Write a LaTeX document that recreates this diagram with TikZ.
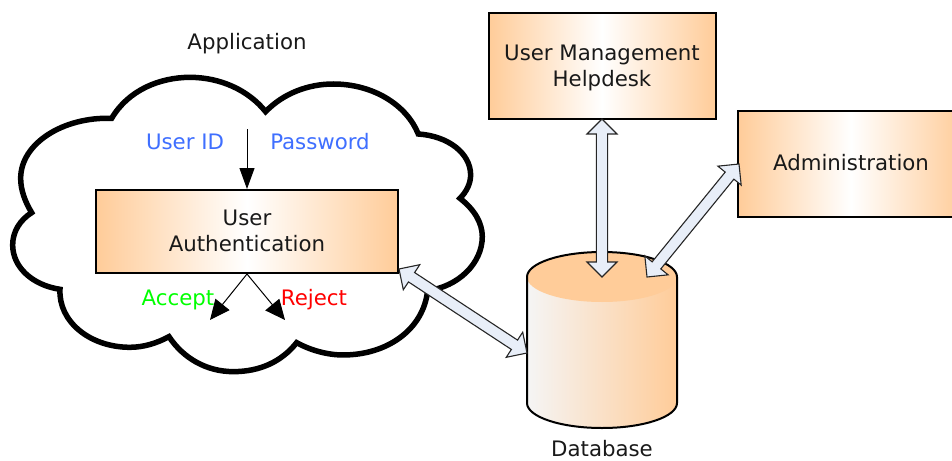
\documentclass[tikz,border=0pt]{standalone}
\usepackage{fontspec}
\setmainfont{DejaVu Sans}
\usetikzlibrary{arrows.meta,calc}
\definecolor{boxorange}{HTML}{FFCC99}
\definecolor{arrowfill}{HTML}{E8EEF8}
\definecolor{uidblue}{HTML}{3F6FFF}
\tikzset{
  x=1pt,y=-1pt,
  lbl/.style={font=\fontsize{21.3}{26}\selectfont,inner sep=0pt,align=center,text=black!90},
  gbox/.style={draw=black,line width=2pt,left color=boxorange,right color=boxorange,middle color=white,shading angle=90,inner sep=0pt,align=center,font=\fontsize{21.3}{26}\selectfont,text=black!90},
  thin arrow/.style={line width=1pt,draw=black,-{Triangle[length=21pt,width=15pt]}},
  thin slant/.style={line width=1pt,draw=black,-{Triangle[length=20pt,width=18pt]}},
  dbl/.style={draw=black!85,line width=1.1pt,fill=arrowfill,line join=miter},
}
\newcommand{\dblarrow}[2]{%
  \coordinate (h1) at ($(#1)!15pt!(#2)$);
  \coordinate (h2) at ($(#2)!15pt!(#1)$);
  \draw[dbl] (#1) -- ($(h1)!15pt!90:(#1)$) -- ($(h1)!5.6pt!90:(#1)$) -- ($(h2)!5.6pt!-90:(#2)$) -- ($(h2)!15pt!-90:(#2)$) -- (#2)
   -- ($(h2)!15pt!90:(#2)$) -- ($(h2)!5.6pt!90:(#2)$) -- ($(h1)!5.6pt!-90:(#1)$) -- ($(h1)!15pt!-90:(#1)$) -- cycle;}
\begin{document}
\begin{tikzpicture}
\useasboundingbox (0,0) rectangle (952,460);
% cloud (coordinates of a 3x crop with origin 0,60)
\begin{scope}[shift={(0,60)},x=0.3333pt,y=-0.3333pt]
\draw[line width=5.5pt,fill=white,line join=miter]
 (335,175) .. controls (385,90) and (480,52) .. (570,52)
 .. controls (660,52) and (745,90) .. (797,155)
 .. controls (850,100) and (925,72) .. (1000,72)
 .. controls (1120,72) and (1220,135) .. (1255,222)
 .. controls (1345,228) and (1412,280) .. (1412,345)
 .. controls (1412,370) and (1400,395) .. (1380,415)
 .. controls (1425,450) and (1447,490) .. (1447,530)
 .. controls (1447,610) and (1375,680) .. (1283,692)
 .. controls (1270,810) and (1160,885) .. (1030,885)
 .. controls (980,885) and (930,870) .. (890,848)
 .. controls (845,905) and (780,935) .. (700,935)
 .. controls (620,935) and (550,895) .. (507,830)
 .. controls (470,850) and (430,862) .. (390,862)
 .. controls (270,862) and (175,785) .. (180,688)
 .. controls (95,675) and (38,620) .. (38,555)
 .. controls (38,515) and (60,480) .. (95,458)
 .. controls (75,425) and (62,390) .. (62,355)
 .. controls (62,250) and (190,170) .. (335,175) -- cycle;
\end{scope}
\node[lbl] (app) at (247,44) {Application};
\node[gbox,minimum width=302pt,minimum height=83pt] (auth) at (247,231.5) {};
\node[lbl] (authtxt) at (247,231) {User\\Authentication};
\node[gbox,minimum width=227pt,minimum height=105pt] (mgmt) at (602,66) {};
\node[lbl] (mgmttxt) at (602,67.5) {User Management\\Helpdesk};
\node[gbox,minimum width=226pt,minimum height=106pt] (admin) at (851,164) {};
\node[lbl] (admintxt) at (851,162.5) {Administration};
\node[lbl,text=uidblue] (uid) at (185,142) {User ID};
\node[lbl,text=uidblue] (pwd) at (320,142) {Password};
\node[lbl,text={rgb,255:red,0;green,255;blue,0}] (acc) at (178,299.5) {Accept};
\node[lbl,text=red] (rej) at (314,299.5) {Reject};
\coordinate (inp) at (247,129);
\coordinate (acct) at (210,320);
\coordinate (rejt) at (285,320);
\draw[thin arrow] (inp) -- (auth.north);
\draw[thin slant] (auth.south) -- (acct);
\draw[thin slant] (auth.south) -- (rejt);
% database
\shade[left color=black!4,right color=boxorange] (527,277) -- (527,403) arc[start angle=180,end angle=360,x radius=75,y radius=-25] -- (677,277) -- cycle;
\fill[boxorange] (602,277) ellipse[x radius=75,y radius=25];
\draw[line width=2pt,line join=round] (527,403) -- (527,277) arc[start angle=180,end angle=0,x radius=75,y radius=-25] -- (677,403) arc[start angle=0,end angle=-180,x radius=75,y radius=-25] -- cycle;
\node[lbl] (dblabel) at (602,448.5) {Database};
\coordinate (mgt) at (602,119);
\coordinate (dbt) at (602,277);
\coordinate (admt) at (739,164);
\coordinate (dbr) at (647,277);
\coordinate (autht) at (399,269);
\coordinate (dbleft) at (527,353);
\dblarrow{mgt}{dbt}
\dblarrow{admt}{dbr}
\dblarrow{autht}{dbleft}
\end{tikzpicture}
\end{document}
